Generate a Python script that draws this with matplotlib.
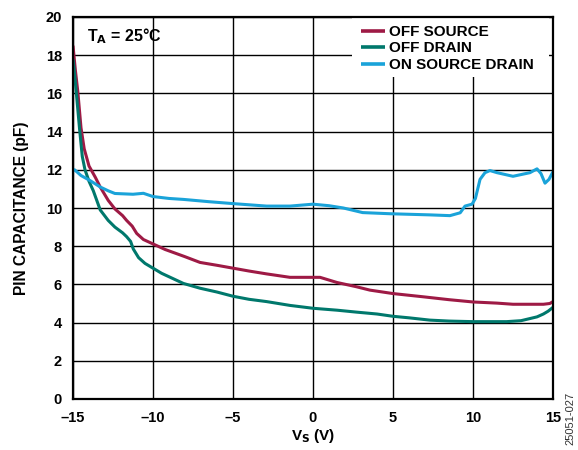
import matplotlib
matplotlib.use("Agg")
import matplotlib.pyplot as plt
from matplotlib.patches import Rectangle

plt.rcParams['font.family'] = ['Liberation Sans', 'DejaVu Sans']
plt.rcParams['font.weight'] = 'bold'

# Data
off_source_v = [-15, -14.85, -14.7, -14.5, -14.3, -14.0, -13.6, -13.3, -12.8, -12.38, -11.9, -11.65, -11.3,
                -11.02, -10.6, -10.08, -9.25, -8.0, -7.06, -6.0, -5, -4.0, -2.9, -1.44, 0.44, 1.5, 2.7, 3.56,
                5, 6.9, 8.5, 10, 11.5, 12.5, 14.4, 14.8, 15]
off_source_c = [18.5, 17.2, 16.1, 14.2, 13.1, 12.2, 11.6, 11.1, 10.4, 9.95, 9.6, 9.35, 9.05,
                8.67, 8.35, 8.15, 7.83, 7.45, 7.15, 7.0, 6.85, 6.7, 6.55, 6.37, 6.37, 6.1, 5.88, 5.7,
                5.52, 5.35, 5.2, 5.08, 5.02, 4.96, 4.96, 5.0, 5.1]

off_drain_v = [-15, -14.9, -14.8, -14.58, -14.42, -14.25, -14.0, -13.73, -13.3, -12.8, -12.38, -11.9, -11.65,
               -11.4, -11.23, -10.9, -10.5, -10.0, -9.46, -8.1, -7.06, -6.0, -5, -4.0, -2.9, -1.44, 0, 1.5,
               2.7, 4.0, 5, 6.0, 7.3, 8.5, 10, 12.1, 13.0, 13.5, 14.0, 14.4, 14.7, 15]
off_drain_c = [17.8, 17.0, 16.1, 14.05, 12.7, 12.0, 11.4, 10.9, 9.9, 9.35, 9.0, 8.7, 8.5,
               8.25, 7.85, 7.4, 7.1, 6.85, 6.58, 6.05, 5.8, 5.6, 5.38, 5.22, 5.1, 4.9, 4.75, 4.65,
               4.55, 4.45, 4.33, 4.25, 4.13, 4.08, 4.05, 4.05, 4.1, 4.2, 4.3, 4.45, 4.6, 4.8]

on_sd_v = [-15, -14.9, -14.5, -13.94, -13.3, -12.8, -12.38, -11.25, -10.6, -10, -9, -8.1, -6.5, -5, -2.9,
           -1.44, 0, 1.0, 1.9, 3.1, 4.8, 7.3, 8.56, 9.2, 9.5, 9.94, 10.15, 10.44, 10.75, 11.06, 11.5, 12.5,
           13.56, 14, 14.25, 14.5, 14.75, 15]
on_sd_c = [12.0, 12.0, 11.7, 11.44, 11.1, 10.9, 10.76, 10.72, 10.77, 10.6, 10.5, 10.45, 10.33, 10.23, 10.1,
           10.1, 10.2, 10.12, 10.0, 9.76, 9.7, 9.64, 9.6, 9.75, 10.1, 10.2, 10.5, 11.5, 11.85, 11.96, 11.85, 11.66,
           11.85, 12.05, 11.8, 11.3, 11.5, 11.9]

x_ticks = [-15, -10, -5, 0, 5, 10, 15]
x_tick_labels = ["\u201315", "\u201310", "\u20135", "0", "5", "10", "15"]
y_ticks = [0, 2, 4, 6, 8, 10, 12, 14, 16, 18, 20]

W, H = 578, 450
AX_L, AX_R, AX_T, AX_B = 73, 553, 17, 399
fig = plt.figure(figsize=(W / 100, H / 100), dpi=100)
ax = fig.add_axes([AX_L / W, (H - AX_B) / H, (AX_R - AX_L) / W, (AX_B - AX_T) / H])
aw, ah = AX_R - AX_L, AX_B - AX_T

kw = dict(lw=2.2, solid_joinstyle='round', solid_capstyle='butt', zorder=3)
ax.plot(off_source_v, off_source_c, color='#9E1A45', label='OFF SOURCE', **kw)
ax.plot(off_drain_v, off_drain_c, color='#00786C', label='OFF DRAIN', **kw)
ax.plot(on_sd_v, on_sd_c, color='#1AA3D9', label='ON SOURCE DRAIN', **kw)

ax.set_xlim(-15, 15)
ax.set_ylim(0, 20)
ax.set_xticks(x_ticks)
ax.set_xticklabels(x_tick_labels)
ax.set_yticks(y_ticks)
ax.tick_params(length=0, labelsize=10.5, pad=9)
ax.tick_params(axis='y', pad=8)
ax.grid(True, color='black', lw=1.0)
ax.set_axisbelow(True)
for s in ax.spines.values():
    s.set_linewidth(1.6)
    s.set_color('black')
    s.set_zorder(5)

ax.set_xlabel('V$_\\mathbf{S}$ (V)', fontsize=11, fontweight='bold', labelpad=1)
ax.set_ylabel('PIN CAPACITANCE (pF)', fontsize=11.2, fontweight='bold', labelpad=12)

ax.text((87 - AX_L) / aw, (AX_B - 41.7) / ah, 'T$_\\mathbf{A}$ = 25°C', transform=ax.transAxes,
        fontsize=11.5, fontweight='bold', va='baseline', ha='left', zorder=6)

# white background behind legend (hides grid)
ax.add_patch(Rectangle(((352 - AX_L) / aw, (AX_B - 77) / ah), (549 - 352) / aw, (77 - AX_T) / ah,
                       transform=ax.transAxes, facecolor='white', edgecolor='none', zorder=1))

leg = ax.legend(loc='upper left', bbox_to_anchor=((358 - AX_L) / aw, 1 - 5 / ah), frameon=False,
                fontsize=11, handlelength=1.55, handletextpad=0.28, labelspacing=0.16,
                borderpad=0.2, borderaxespad=0)
leg.set_zorder(6)
for t in leg.get_texts():
    t.set_fontweight('bold')
for l in leg.get_lines():
    l.set_linewidth(2.6)

fig.text(570.5 / W, (H - 392) / H, '25051-027', rotation=90, fontsize=8, fontweight='normal',
         color='#333333', ha='center', va='top')

fig.savefig('out.png', dpi=100)
